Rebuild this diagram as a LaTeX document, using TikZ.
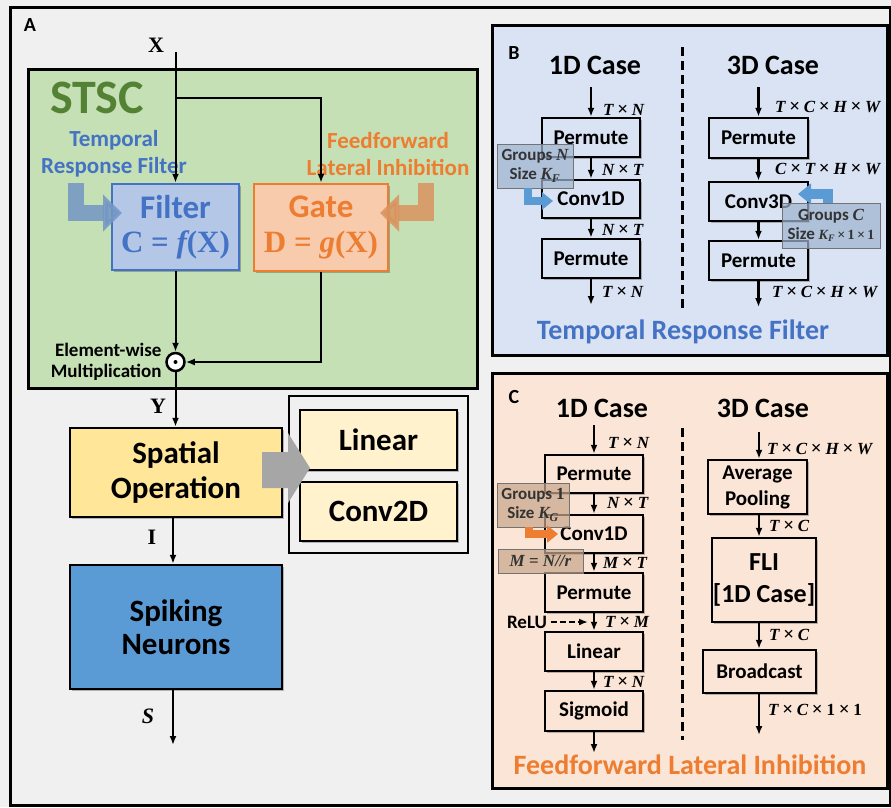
\documentclass[tikz,border=0pt]{standalone}
\usepackage[no-math]{fontspec}
\setmainfont{Carlito}
\newfontfamily\mfont{Liberation Serif}
\usetikzlibrary{arrows.meta,shadows}
\definecolor{bgc}{HTML}{F0F0F0}
\definecolor{stscgreen}{HTML}{C5E0B4}
\definecolor{stscdark}{HTML}{548235}
\definecolor{tblue}{HTML}{4472C4}
\definecolor{filterfill}{HTML}{B4C7E7}
\definecolor{forange}{HTML}{ED7D31}
\definecolor{gatefill}{HTML}{F8CBAD}
\definecolor{spatfill}{HTML}{FFE699}
\definecolor{linfill}{HTML}{FFF2CC}
\definecolor{spikfill}{HTML}{5B9BD5}
\definecolor{panB}{HTML}{DAE3F3}
\definecolor{panC}{HTML}{FBE5D6}
\definecolor{grayarr}{HTML}{A6A6A6}
\definecolor{bigblue}{HTML}{7396C4}
\definecolor{bigorange}{HTML}{D9935E}
\definecolor{smallblue}{HTML}{5B9BD5}
\definecolor{groupblue}{HTML}{9FB3CF}
\definecolor{groupbrown}{HTML}{C9A68C}
\newcommand\tm{\hspace{0.22em}{\upshape\fontsize{19}{19}\selectfont ×}\hspace{0.22em}}
\newcommand\mi[1]{{\mfont\bfseries\itshape #1}}
\begin{document}
\begin{tikzpicture}[x=1pt,y=-1pt,
 aline/.style={line width=2pt,-{Latex[length=9pt,width=7pt]}},
 barr/.style={line width=2.2pt,-{Latex[length=9pt,width=7pt]}},
 dimlab/.style={anchor=west,inner sep=0pt,font=\mfont\bfseries\itshape\fontsize{17}{17}\selectfont},
 bbox/.style={draw,line width=2.5pt,inner sep=0pt,font=\bfseries\fontsize{21}{21}\selectfont},
 shad/.style={drop shadow={shadow xshift=2pt,shadow yshift=-2pt,opacity=0.25,fill=black}},
 gbox/.style={draw=black!55,line width=1pt,fill opacity=0.72,text opacity=1,inner sep=0pt,align=center,font=\bfseries\fontsize{17}{19}\selectfont,text=black!80},
 ttl/.style={font=\bfseries\fontsize{28}{28}\selectfont},
 plab/.style={font=\bfseries\fontsize{20}{20}\selectfont},
 vlab/.style={font=\mfont\bfseries\fontsize{22}{22}\selectfont},
]
\fill[bgc] (0,0) rectangle (891,807);
\useasboundingbox (0,0) rectangle (891,807);
\draw[line width=3pt] (10,7) rectangle (890,805);

% ---------------- Panel A ----------------
\node[plab] (lA) at (30,25) {A};
\node[vlab] (lX) at (156,45) {X};
\coordinate (xin) at (175.5,52);
\node[draw,line width=3pt,fill=stscgreen,minimum width=449pt,minimum height=319pt,inner sep=0pt] (stsc) at (252.5,228.5) {};
\node[stscdark,font=\bfseries\fontsize{48}{48}\selectfont] (stsct) at (97,98) {STSC};
\node[tblue,align=center,font=\bfseries\fontsize{23}{27}\selectfont] (trf) at (114,154) {Temporal\\Response Filter};
\node[forange,align=center,font=\bfseries\fontsize{23}{27}\selectfont] (flit) at (388,154) {Feedforward\\Lateral Inhibition};

\node[draw=tblue,line width=2.5pt,fill=filterfill,minimum width=127pt,minimum height=86pt,inner sep=0pt,shad] (filter) at (175.5,227) {};
\node[draw=forange,line width=2.5pt,fill=gatefill,minimum width=134pt,minimum height=87pt,inner sep=0pt,shad] (gate) at (321,227.5) {};
\node[tblue,font=\bfseries\fontsize{33}{33}\selectfont] (filtert) at (175.5,207) {Filter};
\node[tblue,font=\mfont\bfseries\fontsize{31}{31}\selectfont] (filterm) at (175.5,245) {C = {\itshape f}(X)};
\node[forange,font=\bfseries\fontsize{33}{33}\selectfont] (gatet) at (321,207) {Gate};
\node[forange,font=\mfont\bfseries\fontsize{31}{31}\selectfont] (gatem) at (321,245) {D = {\itshape g}(X)};

\draw[bigblue,opacity=0.85,line width=16pt,line join=miter,-{Triangle[length=19pt,width=36pt]}] (76,183) |- (122,213);
\draw[bigorange,opacity=0.85,line width=16pt,line join=miter,-{Triangle[length=19pt,width=36pt]}] (426,183) |- (380,213);

\node[circle,draw,line width=2.5pt,fill=white,minimum size=18pt,inner sep=0pt] (mul) at (175.5,362) {};
\fill (mul) circle (2pt);
\node[anchor=east,align=right,font=\bfseries\fontsize{19}{21}\selectfont] (ewm) at (165,362) {Element-wise\\Multiplication};

\coordinate (br) at (175.5,98);
\draw[aline] (xin) -- (filter.north);
\draw[line width=2pt,-{Latex[length=9pt,width=7pt]}] (br) -| (gate.north);
\draw[aline] (filter.south) -- (mul.north);
\draw[aline] (gate.south) |- (mul.east);

\node[draw,line width=2.5pt,fill=spatfill,minimum width=212pt,minimum height=89pt,inner sep=0pt,align=center,font=\bfseries\fontsize{31}{35}\selectfont,shad] (spatial) at (176,472.5) {Spatial\\Operation};
\node[draw,line width=1.8pt,fill=bgc,minimum width=179pt,minimum height=157pt,inner sep=0pt] (opsbox) at (378.5,474.5) {};
\node[draw,line width=2.5pt,fill=linfill,minimum width=157pt,minimum height=60pt,inner sep=0pt,font=\bfseries\fontsize{31}{31}\selectfont,shad] (linear) at (378.5,440) {Linear};
\node[draw,line width=2.5pt,fill=linfill,minimum width=157pt,minimum height=59pt,inner sep=0pt,font=\bfseries\fontsize{31}{31}\selectfont,shad] (conv2d) at (378.5,511.5) {Conv2D};
\fill[grayarr] (262,452) -- (288,452) -- (288,433) -- (310,468) -- (288,503) -- (288,488) -- (262,488) -- cycle;

\node[draw,line width=2.5pt,fill=spikfill,minimum width=212pt,minimum height=124pt,inner sep=0pt,align=center,font=\bfseries\fontsize{31}{33}\selectfont,shad] (spiking) at (176,627) {Spiking\\Neurons};

\draw[aline] (mul.south) -- (mul.south |- spatial.north);
\node[vlab] (lY) at (158,406) {Y};
\draw[aline] ([xshift=-3pt]spatial.south) -- ([xshift=-3pt]spiking.north);
\node[vlab] (lI) at (152,537) {I};
\coordinate (sout) at (173,745);
\draw[aline] ([xshift=-3pt]spiking.south) -- (sout);
\node[vlab,font=\mfont\bfseries\itshape\fontsize{22}{22}\selectfont] (lS) at (148,716) {S};

% ---------------- Panel B ----------------
\node[draw,line width=3pt,fill=panB,minimum width=395pt,minimum height=330pt,inner sep=0pt] (pB) at (689.5,190) {};
\node[plab] (lB) at (514,53) {B};
\node[ttl] (b1t) at (595,65) {1D Case};
\node[ttl] (b3t) at (773,65) {3D Case};
\draw[line width=3pt,dash pattern=on 9pt off 5pt] (682,47) -- (682,310);

\coordinate (b1in) at (591,87);
\node[bbox,fill=panB,shad,minimum width=98pt,minimum height=39pt] (b1p1) at (591,137.5) {Permute};
\node[bbox,fill=panB,shad,minimum width=98pt,minimum height=38pt] (b1c) at (591,199) {Conv1D};
\node[bbox,fill=panB,shad,minimum width=98pt,minimum height=39pt] (b1p2) at (591,258.5) {Permute};
\coordinate (b1out) at (591,305);
\draw[barr] (b1in) -- (b1p1.north);
\draw[barr] (b1p1.south) -- (b1c.north);
\draw[barr] (b1c.south) -- (b1p2.north);
\draw[barr] (b1p2.south) -- (b1out);
\node[dimlab] (b1l1) at (603,110) {T\tm N};
\node[dimlab] (b1l2) at (602,170) {N\tm T};
\node[dimlab] (b1l3) at (602,230) {N\tm T};
\node[dimlab] (b1l4) at (602,292) {T\tm N};

\coordinate (b3in) at (758.5,87);
\node[bbox,fill=panB,shad,minimum width=99pt,minimum height=40pt] (b3p1) at (758.5,138) {Permute};
\node[bbox,fill=panB,shad,minimum width=99pt,minimum height=39pt] (b3c) at (758.5,201.5) {Conv3D};
\node[bbox,fill=panB,shad,minimum width=99pt,minimum height=39pt] (b3p2) at (758.5,260.5) {Permute};
\coordinate (b3out) at (758.5,307);
\draw[barr] (b3in) -- (b3p1.north);
\draw[barr] (b3p1.south) -- (b3c.north);
\draw[barr] (b3c.south) -- (b3p2.north);
\draw[barr] (b3p2.south) -- (b3out);
\node[dimlab] (b3l1) at (775,107) {T\tm C\tm H\tm W};
\node[dimlab] (b3l2) at (775,169) {C\tm T\tm H\tm W};
\node[dimlab] (b3l4) at (772,292) {T\tm C\tm H\tm W};

\node[gbox,fill=groupblue,minimum width=76pt,minimum height=44pt] (gN) at (535,166) {Groups \mi{N}\\Size \mi{K}\textsubscript{\mi{F}}};
\draw[smallblue,line width=8pt,line join=miter,-{Triangle[length=11pt,width=17pt]}] (527.5,188) |- (553,201);
\node[gbox,fill=groupblue,minimum width=98pt,minimum height=45pt] (gC) at (831,225.5) {Groups \mi{C}\\Size {\fontsize{14}{14}\selectfont\mi{K}\textsubscript{\mi{F}}{\mfont\bfseries\,×\,1\,×\,1}}};
\draw[smallblue,line width=10pt,line join=miter,-{Triangle[length=13pt,width=20pt]}] (828,203) |- (798,194);
\node[tblue,ttl] (btitle) at (683,332) {Temporal Response Filter};

% ---------------- Panel C ----------------
\node[draw,line width=3pt,fill=panC,minimum width=395pt,minimum height=415pt,inner sep=0pt] (pC) at (689.5,580.5) {};
\node[plab] (lC) at (514,397) {C};
\node[ttl] (c1t) at (602,408) {1D Case};
\node[ttl] (c3t) at (763,408) {3D Case};
\draw[line width=3pt,dash pattern=on 9pt off 5pt] (682,428) -- (682,740);

\coordinate (c1in) at (594,425);
\node[bbox,fill=panC,shad,minimum width=98pt,minimum height=38pt] (c1p1) at (594,474) {Permute};
\node[bbox,fill=panC,shad,minimum width=98pt,minimum height=38pt] (c1c) at (594,534) {Conv1D};
\node[bbox,fill=panC,shad,minimum width=98pt,minimum height=39pt] (c1p2) at (594,592.5) {Permute};
\node[bbox,fill=panC,shad,minimum width=98pt,minimum height=39pt] (c1lin) at (594,651.5) {Linear};
\node[bbox,fill=panC,shad,minimum width=98pt,minimum height=40pt] (c1sig) at (594,711) {Sigmoid};
\coordinate (c1out) at (594,753);
\draw[barr] (c1in) -- (c1p1.north);
\draw[barr] (c1p1.south) -- (c1c.north);
\draw[barr] (c1c.south) -- (c1p2.north);
\draw[barr] (c1p2.south) -- (c1lin.north);
\draw[barr] (c1lin.south) -- (c1sig.north);
\draw[barr] (c1sig.south) -- (c1out);
\node[dimlab] (c1l1) at (608,443) {T\tm N};
\node[dimlab] (c1l2) at (607,503) {N\tm T};
\node[dimlab] (c1l3) at (603,563) {M\tm T};
\node[dimlab] (c1l4) at (605,622) {T\tm M};
\node[dimlab] (c1l5) at (603,682) {T\tm N};
\node[font=\bfseries\fontsize{19}{19}\selectfont] (relu) at (527,622) {ReLU};
\coordinate (reluend) at (588,622);
\draw[line width=2pt,dash pattern=on 6pt off 3pt,-{Latex[length=9pt,width=7pt]}] (relu.east) -- (reluend);

\node[gbox,fill=groupbrown,minimum width=72pt,minimum height=44pt] (g1) at (533,505) {Groups {\mfont 1}\\Size \mi{K}\textsubscript{\mi{G}}};
\draw[forange,line width=8pt,line join=miter,-{Triangle[length=11pt,width=17pt]}] (528.5,527) |- (558,534);
\node[gbox,fill=groupbrown,minimum width=85pt,minimum height=24pt,font=\mfont\bfseries\itshape\fontsize{17}{17}\selectfont] (gM) at (540.5,561) {M {\upshape =} N//r};

\coordinate (c3in) at (759,432);
\node[bbox,fill=panC,shad,minimum width=99pt,minimum height=54pt,align=center,font=\bfseries\fontsize{21}{26}\selectfont] (avg) at (757.5,487) {Average\\Pooling};
\node[bbox,fill=panC,shad,minimum width=104pt,minimum height=84pt,align=center,font=\bfseries\fontsize{26}{32}\selectfont] (flib) at (764,580) {FLI\\{}[1D Case]};
\node[bbox,fill=panC,shad,minimum width=113pt,minimum height=43pt] (bcast) at (759.5,671.5) {Broadcast};
\coordinate (c3out) at (759,735);
\draw[barr] (c3in) -- (c3in |- avg.north);
\draw[barr] (c3in |- avg.south) -- (c3in |- flib.north);
\draw[barr] (c3in |- flib.south) -- (c3in |- bcast.north);
\draw[barr] (c3in |- bcast.south) -- (c3out);
\node[dimlab] (c3l1) at (767,449) {T\tm C\tm H\tm W};
\node[dimlab] (c3l2) at (769,526) {T\tm C};
\node[dimlab] (c3l3) at (769,635) {T\tm C};
\node[dimlab] (c3l4) at (768,710) {T\tm C\tm {\upshape 1}\tm {\upshape 1}};
\node[forange,ttl] (ctitle) at (690,765) {Feedforward Lateral Inhibition};
\end{tikzpicture}
\end{document}
